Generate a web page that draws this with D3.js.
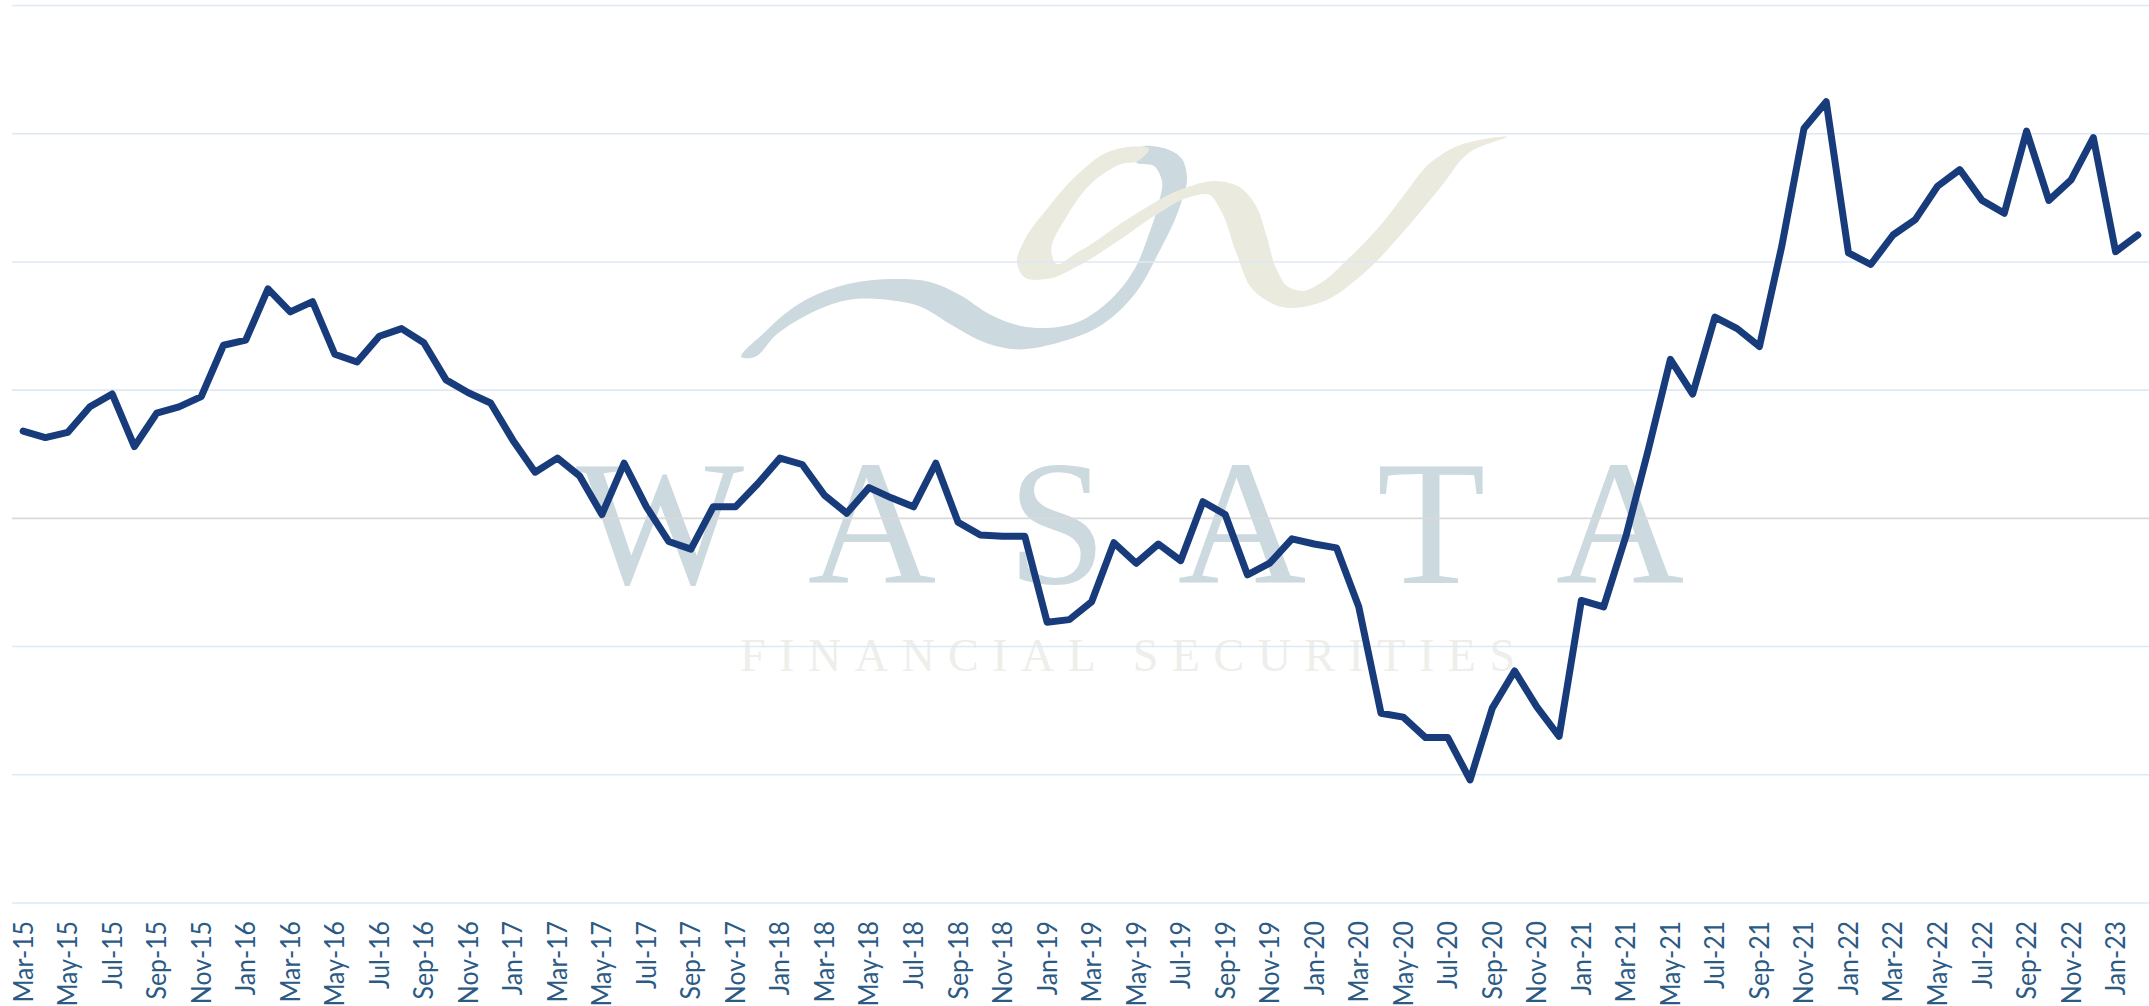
<!DOCTYPE html>
<html>
<head>
<meta charset="utf-8">
<script src="https://cdnjs.cloudflare.com/ajax/libs/d3/7.8.5/d3.min.js"></script>
<style>
  body { margin: 0; background: #fff; overflow: hidden; }
  svg { display: block; }
</style>
</head>
<body>
<script>
const months = ["Mar-15","Apr-15","May-15","Jun-15","Jul-15","Aug-15","Sep-15","Oct-15","Nov-15","Dec-15",
  "Jan-16","Feb-16","Mar-16","Apr-16","May-16","Jun-16","Jul-16","Aug-16","Sep-16","Oct-16","Nov-16","Dec-16",
  "Jan-17","Feb-17","Mar-17","Apr-17","May-17","Jun-17","Jul-17","Aug-17","Sep-17","Oct-17","Nov-17","Dec-17",
  "Jan-18","Feb-18","Mar-18","Apr-18","May-18","Jun-18","Jul-18","Aug-18","Sep-18","Oct-18","Nov-18","Dec-18",
  "Jan-19","Feb-19","Mar-19","Apr-19","May-19","Jun-19","Jul-19","Aug-19","Sep-19","Oct-19","Nov-19","Dec-19",
  "Jan-20","Feb-20","Mar-20","Apr-20","May-20","Jun-20","Jul-20","Aug-20","Sep-20","Oct-20","Nov-20","Dec-20",
  "Jan-21","Feb-21","Mar-21","Apr-21","May-21","Jun-21","Jul-21","Aug-21","Sep-21","Oct-21","Nov-21","Dec-21",
  "Jan-22","Feb-22","Mar-22","Apr-22","May-22","Jun-22","Jul-22","Aug-22","Sep-22","Oct-22","Nov-22","Dec-22",
  "Jan-23","Feb-23"];

// the y axis has no labels so gridline step = 10
const values = [6.8,6.3,6.7,8.7,9.7,5.6,8.2,8.7,9.5,13.5,
  13.9,17.9,16.1,16.9,12.8,12.2,14.2,14.8,13.7,10.8,9.8,9.0,
  6.1,3.6,4.7,3.3,0.3,4.3,0.9,-1.8,-2.4,0.9,0.9,2.7,
  4.7,4.2,1.8,0.4,2.4,1.6,0.9,4.3,-0.3,-1.3,-1.4,-1.4,
  -8.1,-7.9,-6.5,-1.9,-3.5,-2.0,-3.3,1.3,0.3,-4.4,-3.5,-1.6,
  -2.0,-2.3,-6.9,-15.2,-15.5,-17.1,-17.1,-20.4,-14.8,-11.9,-14.7,-17.0,
  -6.4,-6.9,-1.4,5.3,12.4,9.7,15.7,14.8,13.4,21.2,30.4,32.5,
  20.7,19.8,22.1,23.3,25.9,27.2,24.8,23.8,30.2,24.8,26.4,29.7,
  20.8,22.1];

const gridValues = [-30,-20,-10,0,10,20,30,40];

const width = 2149, height = 1006;

const svg = d3.select("body").append("svg")
  .attr("width", width)
  .attr("height", height);

const x = d3.scaleBand().domain(months).range([12, 2149]);
const y = d3.scaleLinear().domain([-30, 40]).range([903, 5.5]);

// Watermark
const watermark = svg.append("g").attr("class", "watermark");

const swirlBlue = [[743,358],[766,331],[802,302],[848,284],[894,279],[930,282],[960,295],[991,315],[1021,326],[1047,328],[1078,322],[1108,302],
  [1134,270],[1149,234],[1159,202],[1162,181],[1154,166],[1136,162],[1140,148],[1159,147],[1182,159],[1187,177],[1180,206],[1159,252],[1134,295],[1103,324],
  [1057,343],[1011,349],[981,341],[950,324],[919,306],[889,300],[848,300],[807,315],[777,334],[751,358]];
const swirlBeige = [[1128,147],[1108,152],[1078,174],[1047,209],[1024,241],[1017,263],[1024,277],[1047,279],[1078,266],[1118,241],[1159,213],[1190,197],
  [1210,195],[1220,209],[1236,252],[1254,291],[1282,307],[1322,302],[1363,274],[1404,231],[1440,188],[1470,152],[1507,137],[1455,147],[1430,163],
  [1404,195],[1379,227],[1348,259],[1322,282],[1302,291],[1287,286],[1277,270],[1266,234],[1256,206],[1241,188],[1215,181],[1185,188],[1134,215],
  [1078,252],[1055,263],[1052,256],[1067,216],[1103,174],[1125,163],[1136,162],[1149,149]];

const swirl = d3.line().curve(d3.curveCatmullRomClosed.alpha(1));
watermark.append("path").attr("d", swirl(swirlBlue)).attr("fill", "#ccd9de");
watermark.append("path").attr("d", swirl(swirlBeige)).attr("fill", "#eaeade");

const letters = [["W",660],["A",872],["S",1057],["A",1242],["T",1431],["A",1620]];
watermark.selectAll("text.big")
  .data(letters)
  .enter()
  .append("text")
  .attr("class", "big")
  .attr("x", d => d[1])
  .attr("y", 583)
  .attr("text-anchor", "middle")
  .style("font-family", "'Liberation Serif', serif")
  .style("font-size", "178px")
  .style("fill", "#ccd9de")
  .text(d => d[0]);

watermark.append("text")
  .attr("x", 740)
  .attr("y", 671)
  .attr("textLength", 775)
  .attr("lengthAdjust", "spacing")
  .style("font-family", "'Liberation Serif', serif")
  .style("font-size", "46px")
  .style("fill", "#eeeeea")
  .text("FINANCIAL SECURITIES");

// Gridlines
svg.append("g")
  .attr("class", "grid")
  .selectAll("line")
  .data(gridValues)
  .enter()
  .append("line")
  .attr("x1", 12)
  .attr("x2", width)
  .attr("y1", d => y(d))
  .attr("y2", d => y(d))
  .attr("stroke", d => d === 0 ? "#d9d9d9" : "#deE9f6")
  .attr("stroke-width", 1.6);

// X axis, every second month
const xAxis = d3.axisBottom(x)
  .tickValues(months.filter((d, i) => i % 2 === 0))
  .tickSize(0);

const axisG = svg.append("g")
  .attr("transform", "translate(0,903)")
  .call(xAxis);
axisG.select(".domain").remove();
axisG.selectAll("text")
  .attr("transform", "rotate(-90) scale(0.92,1)")
  .attr("x", -18 / 0.92)
  .attr("y", 0)
  .attr("dy", "0.35em")
  .attr("text-anchor", "end")
  .style("font-family", "Lato, sans-serif")
  .style("font-size", "27px")
  .style("fill", "#2b5a85");

// Line
const line = d3.line()
  .x((d, i) => x(months[i]) + x.bandwidth() / 2)
  .y(d => y(d));

svg.append("path")
  .datum(values)
  .attr("d", line)
  .attr("fill", "none")
  .attr("stroke", "#183c7b")
  .attr("stroke-width", 7)
  .attr("stroke-linejoin", "round")
  .attr("stroke-linecap", "round");
</script>
</body>
</html>
